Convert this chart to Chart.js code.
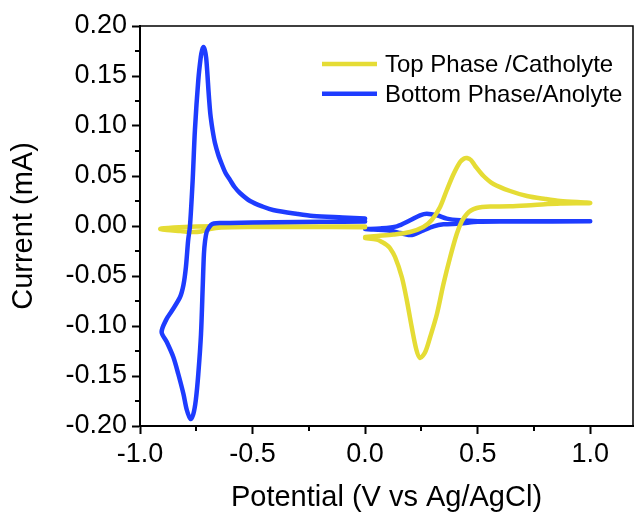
<!DOCTYPE html>
<html>
<head>
<meta charset="utf-8">
<script src="https://cdn.jsdelivr.net/npm/chart.js@4.4.0/dist/chart.umd.min.js"></script>
<style>
    html, body { margin: 0; padding: 0; background: #fff; }
    #wrap { position: relative; width: 635px; height: 515px; }
</style>
</head>
<body>
<div id="wrap"><canvas id="cv-chart"></canvas></div>
<script>
const seriesNames = ['Top Phase /Catholyte', 'Bottom Phase/Anolyte'];
const seriesColors = ['#E5DC35', '#1E3CFF'];

// Top phase (catholyte), scan between -0.9 and 0 V
const topLeftX = [0.0, -0.3, -0.6, -0.75, -0.85, -0.91, -0.88, -0.82, -0.77, -0.73, -0.69, -0.64, -0.5, -0.3, 0.0];
const topLeftY = [-0.0005, -0.0004, 0.0, -0.0005, -0.0015, -0.0028, -0.004, -0.005, -0.006, -0.0055, -0.003, -0.0015, -0.001, -0.001, -0.0012];

// Top phase (catholyte), scan between 0 and 1 V
const topRightX = [0.0, 0.052, 0.126, 0.2, 0.259, 0.296, 0.333, 0.363, 0.393, 0.422, 0.44, 0.452, 0.47, 0.489, 0.526, 0.57, 0.644, 0.719, 0.8, 0.867, 1.0,
    0.867, 0.75, 0.644, 0.556, 0.52, 0.496, 0.47, 0.452, 0.43, 0.407, 0.378, 0.348, 0.319, 0.289, 0.267, 0.244, 0.228, 0.207, 0.185, 0.163, 0.133, 0.11, 0.096, 0.075, 0.052, 0.0];
const topRightY = [-0.011, -0.010, -0.0086, -0.006, -0.001, 0.006, 0.019, 0.036, 0.052, 0.064, 0.0675, 0.068, 0.066, 0.06, 0.05, 0.042, 0.035, 0.03, 0.027, 0.025, 0.023,
    0.0224, 0.021, 0.0197, 0.0195, 0.019, 0.018, 0.0155, 0.012, 0.005, -0.008, -0.031, -0.058, -0.088, -0.111, -0.126, -0.132, -0.124, -0.101, -0.074, -0.051, -0.031, -0.022, -0.019, -0.016, -0.0136, -0.012];

// Bottom phase (anolyte), scan between -0.9 and 0 V
const botLeftX = [0.0, -0.2, -0.4, -0.6, -0.644, -0.672, -0.685, -0.695, -0.704, -0.711, -0.716, -0.721, -0.729, -0.741, -0.752, -0.763, -0.775,
    -0.792, -0.807, -0.83, -0.852, -0.881, -0.904, -0.882, -0.859, -0.822, -0.807, -0.796, -0.786, -0.778, -0.766, -0.756, -0.741, -0.73, -0.724, -0.718,
    -0.712, -0.706, -0.7, -0.696, -0.69, -0.686, -0.677, -0.667, -0.652, -0.637, -0.62, -0.6, -0.58, -0.556, -0.511, -0.45, -0.409, -0.3, -0.231, -0.1, 0.0];
const botLeftY = [0.0045, 0.0042, 0.0038, 0.003, 0.003, 0.0025, 0.001, -0.002, -0.006, -0.015, -0.028, -0.058, -0.108, -0.148, -0.174, -0.188, -0.193,
    -0.184, -0.168, -0.148, -0.131, -0.116, -0.106, -0.093, -0.085, -0.071, -0.059, -0.041, -0.014, 0.0, 0.046, 0.096, 0.146, 0.169, 0.176, 0.179,
    0.176, 0.168, 0.15, 0.136, 0.118, 0.109, 0.095, 0.083, 0.071, 0.062, 0.053, 0.046, 0.039, 0.033, 0.025, 0.019, 0.016, 0.012, 0.01, 0.0085, 0.0074];

// Bottom phase (anolyte), scan between 0 and 1 V
const botRightX = [0.0, 0.067, 0.141, 0.2, 0.244, 0.274, 0.319, 0.363, 0.422, 0.5, 0.7, 1.0,
    0.7, 0.5, 0.422, 0.348, 0.304, 0.259, 0.215, 0.193, 0.156, 0.096, 0.037, 0.0];
const botRightY = [-0.003, -0.0025, -0.0003, 0.0057, 0.0107, 0.0123, 0.0107, 0.0074, 0.0057, 0.0048, 0.0047, 0.0047,
    0.0045, 0.0043, 0.0024, 0.0017, -0.0003, -0.0043, -0.0086, -0.009, -0.007, -0.0043, -0.0036, -0.003];

const xTicks = [-1.0, -0.5, 0.0, 0.5, 1.0];
const yTicks = [-0.20, -0.15, -0.10, -0.05, 0.00, 0.05, 0.10, 0.15, 0.20];
const xMin = -1.0, xMax = 1.19;
const yMin = -0.20, yMax = 0.20;

const FONT = "'Liberation Sans', Arial, sans-serif";
Chart.defaults.font.family = FONT;
Chart.defaults.color = '#000';

function pts(xs, ys) {
    return xs.map((x, i) => ({ x, y: ys[i] }));
}

function curve(xs, ys, color) {
    return {
        data: pts(xs, ys),
        borderColor: color,
        backgroundColor: color,
        borderWidth: 4.5,
        pointRadius: 0,
        tension: 0.3,
        borderCapStyle: 'round',
        borderJoinStyle: 'round',
        fill: false
    };
}

// ── Frame, minor ticks, legend ───────────────────────────────────────────────

const framePlugin = {
    id: 'frame',
    afterDraw(chart) {
        const { ctx, chartArea: a, scales: { x, y } } = chart;
        ctx.save();
        ctx.strokeStyle = '#000';
        ctx.lineWidth = 1.5;
        ctx.beginPath();
        ctx.moveTo(a.left, a.top);
        ctx.lineTo(a.right, a.top);
        ctx.lineTo(a.right, a.bottom);
        ctx.stroke();

        ctx.lineWidth = 2;
        ctx.beginPath();
        for (let i = 0; i < xTicks.length - 1; i++) {
            const px = Math.round(x.getPixelForValue((xTicks[i] + xTicks[i + 1]) / 2));
            ctx.moveTo(px, a.bottom);
            ctx.lineTo(px, a.bottom + 5);
        }
        for (let i = 0; i < yTicks.length - 1; i++) {
            const py = Math.round(y.getPixelForValue((yTicks[i] + yTicks[i + 1]) / 2));
            ctx.moveTo(a.left, py);
            ctx.lineTo(a.left - 5, py);
        }
        ctx.stroke();
        ctx.restore();
    }
};

const legendPlugin = {
    id: 'boxLegend',
    afterDraw(chart) {
        const { ctx, chartArea: a } = chart;
        const x0 = a.left + 182;
        const y0 = a.top + 38;
        ctx.save();
        ctx.font = `24px ${FONT}`;
        ctx.textBaseline = 'alphabetic';
        ctx.fillStyle = '#000';
        seriesNames.forEach((name, i) => {
            const yy = y0 + i * 29.7;
            ctx.strokeStyle = seriesColors[i];
            ctx.lineWidth = 4.5;
            ctx.beginPath();
            ctx.moveTo(x0, yy);
            ctx.lineTo(x0 + 55, yy);
            ctx.stroke();
            ctx.fillText(name, x0 + 63, yy + 8);
        });
        ctx.restore();
    }
};

new Chart(document.getElementById('cv-chart'), {
    type: 'line',
    data: {
        datasets: [
            curve(botLeftX, botLeftY, seriesColors[1]),
            curve(topRightX, topRightY, seriesColors[0]),
            curve(topLeftX, topLeftY, seriesColors[0]),
            curve(botRightX, botRightY, seriesColors[1])
        ]
    },
    options: {
        responsive: true,
        maintainAspectRatio: false,
        devicePixelRatio: 1,
        animation: false,
        events: [],
        layout: { padding: { top: 26, right: 2, left: 0, bottom: 0 } },
        plugins: {
            legend: { display: false },
            tooltip: { enabled: false }
        },
        scales: {
            x: {
                type: 'linear',
                min: xMin,
                max: xMax,
                afterBuildTicks: s => { s.ticks = xTicks.map(v => ({ value: v })); },
                afterFit: s => { s.height = 89; },
                grid: { drawOnChartArea: false, drawTicks: true, tickLength: 8, tickWidth: 2, tickColor: '#000', color: '#000' },
                border: { display: true, color: '#000', width: 2 },
                ticks: {
                    font: { size: 27 },
                    color: '#000',
                    padding: 4,
                    maxRotation: 0,
                    callback: v => Number(v).toFixed(1)
                },
                title: {
                    display: true,
                    text: 'Potential (V vs Ag/AgCl)',
                    font: { size: 29 },
                    color: '#000',
                    padding: { top: 0, bottom: 0 }
                }
            },
            y: {
                type: 'linear',
                min: yMin,
                max: yMax,
                afterBuildTicks: s => { s.ticks = yTicks.map(v => ({ value: v })); },
                afterFit: s => { s.width = 140; },
                grid: { drawOnChartArea: false, drawTicks: true, tickLength: 8, tickWidth: 2, tickColor: '#000', color: '#000' },
                border: { display: true, color: '#000', width: 2 },
                ticks: {
                    font: { size: 27 },
                    color: '#000',
                    padding: 5,
                    callback: v => Number(v).toFixed(2)
                },
                title: {
                    display: true,
                    text: 'Current (mA)',
                    font: { size: 29 },
                    color: '#000',
                    padding: { top: 7, bottom: 0 }
                }
            }
        }
    },
    plugins: [framePlugin, legendPlugin]
});
</script>
</body>
</html>
